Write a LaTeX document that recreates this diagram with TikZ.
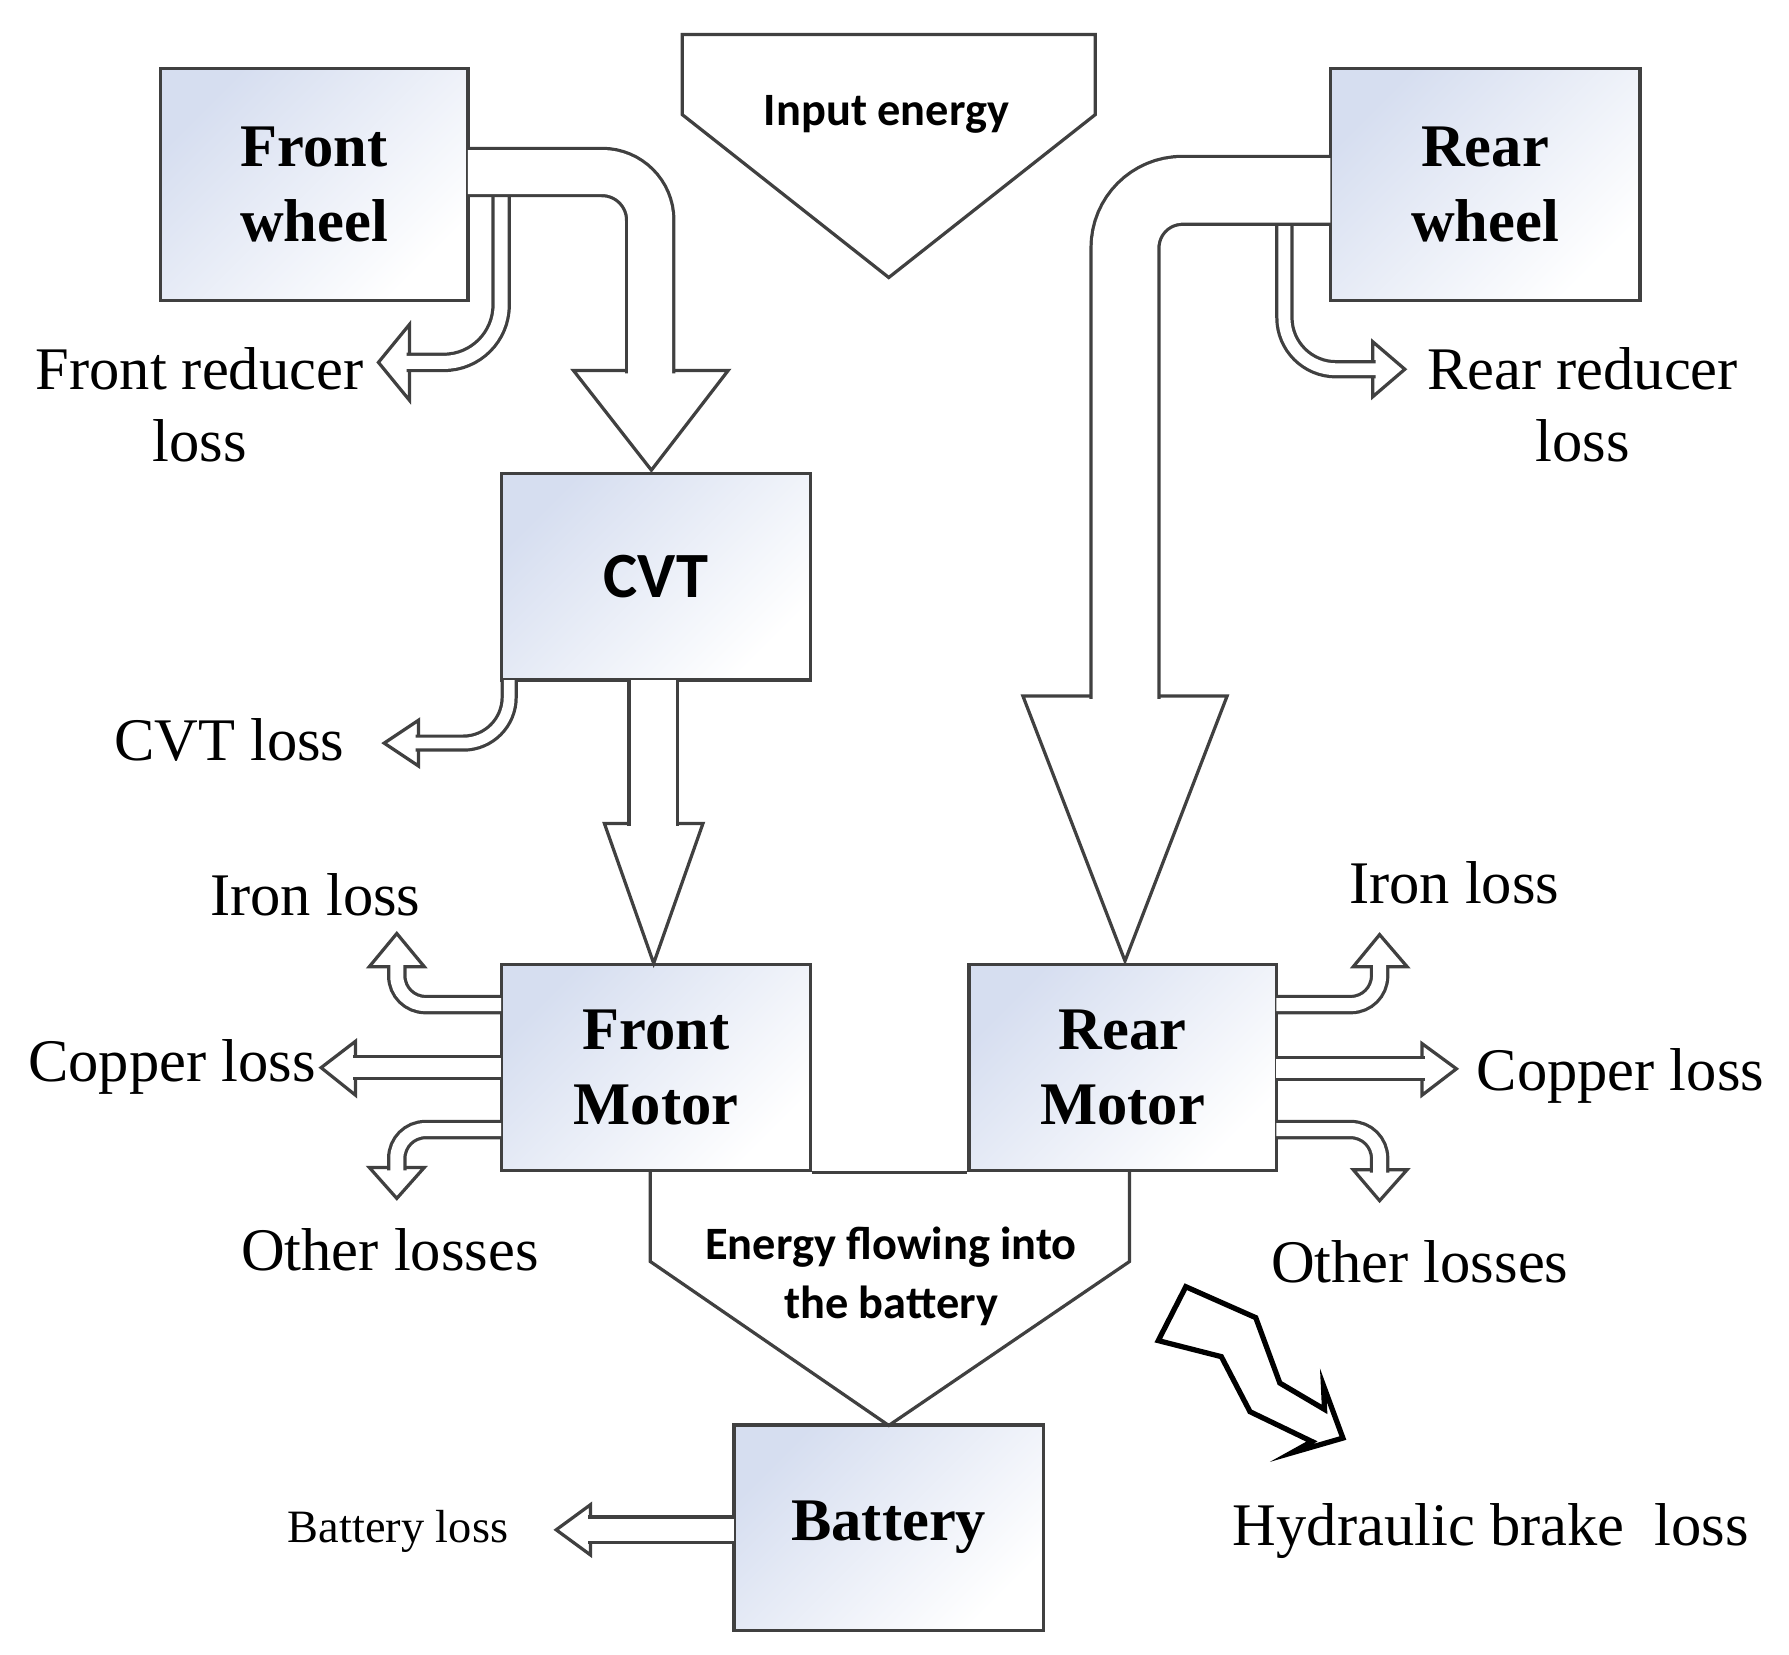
\documentclass[tikz,border=0pt]{standalone}
\usepackage{fontspec}
\setmainfont{Liberation Serif}
\newfontfamily\carl{Carlito}
\newdimen\un \un=0.01cm
\definecolor{boxblue}{RGB}{214,222,240}
\tikzset{
  box/.style={draw=black!75, line width=0.8pt, top color=boxblue, bottom color=white, shading angle=45,
    align=center, font=\bfseries\fontsize{15}{18.5}\selectfont},
  lbl/.style={align=center, font=\fontsize{15}{18}\selectfont},
  head/.style={fill=white, draw=black!75, line width=0.8pt, line join=miter},
}
\newcommand\harrow[4][1]{%
  \draw[head] #4 -- cycle;
  \draw[black!75, line width=#2\un, rounded corners=#1\un, shorten >=-1.5\un] #3;
  \draw[white, line width=\dimexpr#2\un-1.6pt\relax, rounded corners=#1\un, shorten >=-3\un] #3;
}
\begin{document}
\begin{tikzpicture}[x=0.01cm,y=-0.01cm]
\useasboundingbox (0,0) rectangle (1560,1443);
% boxes
\node[box, minimum width=268\un, minimum height=202\un] (fw) at (274,161) {Front\\wheel};
\node[box, minimum width=270\un, minimum height=202\un] (rw) at (1295,161) {Rear\\wheel};
\node[box, minimum width=270\un, minimum height=180\un, font=\carl\bfseries\fontsize{16}{19}\selectfont] (cvt) at (572,503) {CVT};
\node[box, minimum width=270\un, minimum height=180\un] (fm) at (572,931) {Front\\Motor};
\node[box, minimum width=268\un, minimum height=180\un] (rm) at (979,931) {Rear\\Motor};
\node[box, minimum width=270\un, minimum height=179\un] (bat) at (775,1332) {Battery};
% input energy
\draw[black!75, line width=0.8pt] (595,30)--(955,30)--(955,100)--(775,242)--(595,100)--cycle;
\node[font=\carl\bfseries\fontsize{11.5}{14}\selectfont] (ie) at (773,100) {Input energy};
% funnel
\draw[black!75, line width=0.8pt] (fm.south east)--(rm.south west);
\draw[black!75, line width=0.8pt] (567,1021)--(567,1100)--(775,1243)--(985,1100)--(985,1021);
\node[align=center, font=\carl\bfseries\fontsize{11.5}{14.5}\selectfont] (ef) at (777,1113) {Energy flowing into\\the battery};
% loss arrows
\harrow[50]{17}{(437,172)--(437,316)--(356,316)}{(357,283)--(357,349)--(330,316)}
\harrow[45]{16}{(1120,195)--(1120,322)--(1198,322)}{(1197,298)--(1197,346)--(1225,322)}
\harrow[40]{15}{(444,593)--(444,648)--(364,648)}{(365,628)--(365,668)--(335,648)}
\harrow[25]{17}{(437,876)--(346,876)--(346,843)}{(322,843)--(370,843)--(346,814)}
\harrow{22}{(437,931)--(309,931)}{(310,908)--(310,955)--(280,931)}
\harrow[25]{17}{(437,985)--(346,985)--(346,1019)}{(322,1018)--(370,1018)--(346,1045)}
\harrow[25]{17}{(1113,876)--(1203,876)--(1203,843)}{(1180,843)--(1227,843)--(1203,815)}
\harrow{22}{(1113,932)--(1241,932)}{(1240,910)--(1240,955)--(1270,932)}
\harrow[25]{17}{(1113,985)--(1203,985)--(1203,1021)}{(1180,1020)--(1227,1020)--(1203,1047)}
\harrow{25}{(640,1334)--(514,1334)}{(515,1312)--(515,1356)--(485,1334)}
% main flows
\harrow[42]{44}{(408,150)--(567,150)--(567,324)}{(500,323)--(635,323)--(568,410)}
\harrow[50]{62}{(1160,166)--(981,166)--(981,608)}{(892,607)--(1070,607)--(981,838)}
\harrow{45}{(569.5,593)--(569.5,719)}{(527,718)--(613,718)--(570,840)}
% hydraulic
\draw[black, line width=1.3pt, line join=miter] (1034,1122)--(1095,1149)--(1116,1206)--(1155,1229)--(1154,1208)--(1171,1254)--(1126,1267)--(1144,1257)--(1090,1231)--(1065,1183)--(1010,1169)--cycle;
% labels
\node[lbl] (l1) at (174,353) {Front reducer\\loss};
\node[lbl] (l2) at (1380,353) {Rear reducer\\loss};
\node[lbl] (l3) at (200,645) {CVT loss};
\node[lbl] (l4) at (275,780) {Iron loss};
\node[lbl] (l5) at (1268,770) {Iron loss};
\node[lbl] (l6) at (150,930) {Copper loss};
\node[lbl] (l7) at (1413,938) {Copper loss};
\node[lbl] (l8) at (340,1090) {Other losses};
\node[lbl] (l9) at (1238,1100) {Other losses};
\node[font=\fontsize{11.5}{14}\selectfont] (l10) at (347,1335) {Battery loss};
\node[lbl] (l11) at (1300,1335) {Hydraulic brake\ \ loss};
\end{tikzpicture}
\end{document}
